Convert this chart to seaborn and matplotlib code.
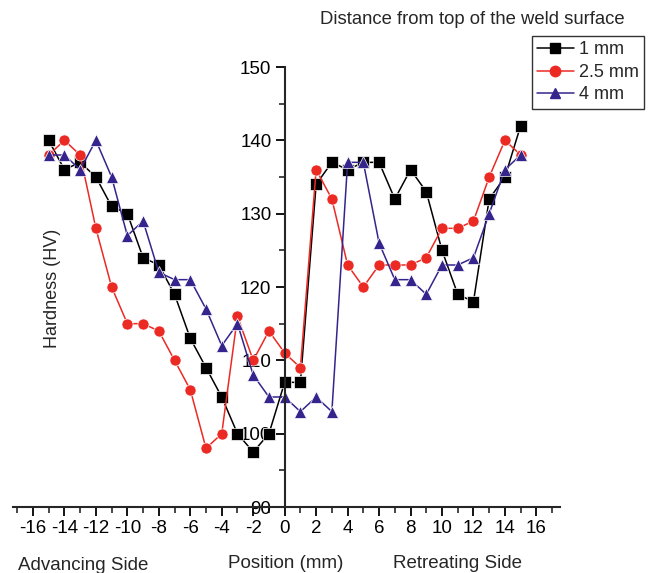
import numpy as np
import pandas as pd
import matplotlib
matplotlib.use("Agg")
import matplotlib.pyplot as plt
import seaborn as sns
from matplotlib.lines import Line2D

# ---- data ----
positions = list(range(-15, 16))
hv_1mm = [140, 136, 137, 135, 131, 130, 124, 123, 119, 113, 109, 105, 100, 97.5, 100,
          107, 107, 134, 137, 136, 137, 137, 132, 136, 133, 125, 119, 118, 132, 135, 142]
hv_25mm = [138, 140, 138, 128, 120, 115, 115, 114, 110, 106, 98, 100, 116, 110, 114,
           111, 109, 136, 132, 123, 120, 123, 123, 123, 124, 128, 128, 129, 135, 140, 138]
hv_4mm = [138, 138, 136, 140, 135, 127, 129, 122, 121, 121, 117, 112, 115, 108, 105,
          105, 103, 105, 103, 137, 137, 126, 121, 121, 119, 123, 123, 124, 130, 136, 138]
series_labels = ["1 mm", "2.5 mm", "4 mm"]
x_ticks = list(range(-16, 17, 2))
y_ticks = list(range(90, 151, 10))

df = pd.DataFrame({
    "Position": positions * 3,
    "Hardness": hv_1mm + hv_25mm + hv_4mm,
    "Depth": [series_labels[0]] * len(positions) + [series_labels[1]] * len(positions)
             + [series_labels[2]] * len(positions),
})

sns.set_style("ticks")
plt.rcParams["font.family"] = ["Liberation Sans", "DejaVu Sans"]
plt.rcParams["axes.unicode_minus"] = False

colors = ["#000000", "#ec2a24", "#34248c"]
markers = ["s", "o", "^"]

fig = plt.figure(figsize=(6.5, 5.73), dpi=100)
W, H = 650, 573
x0, x1 = 12.5, 560
y0, y1 = 507, 67
ax = fig.add_axes([x0 / W, 1 - y0 / H, (x1 - x0) / W, (y0 - y1) / H])

sns.lineplot(data=df, x="Position", y="Hardness", hue="Depth", style="Depth",
             palette=colors, markers=markers, dashes=False, ax=ax,
             linewidth=1.1, markersize=8, markeredgewidth=0.5, legend=False)

ax.set_xlim(-17.3, 17.5)
ax.set_ylim(90, 150)
ax.spines["top"].set_visible(False)
ax.spines["right"].set_visible(False)
ax.spines["left"].set_position(("data", 0))
ax.spines["left"].set_linewidth(1.5)
ax.spines["bottom"].set_linewidth(1.5)

ax.set_xticks(x_ticks)
ax.set_xticks(list(range(-17, 18)), minor=True)
ax.set_yticks(y_ticks)
ax.set_yticks(list(range(95, 150, 10)), minor=True)
ax.tick_params(axis="both", which="major", direction="out", length=6.5, width=1.3,
               labelsize=13.5, colors="black")
ax.tick_params(axis="both", which="minor", direction="out", length=4, width=1.2)
ax.tick_params(axis="x", pad=3)
ax.tick_params(axis="y", pad=3)
ax.set_xlabel("")
ax.set_ylabel("")
ax.patch.set_alpha(0)

# Legend
handles = [Line2D([0], [0], color=c, marker=m, markersize=7.5, linewidth=1.1)
           for c, m in zip(colors, markers)]
leg = fig.legend(handles, series_labels, loc="upper left",
                 bbox_to_anchor=(532 / W, 1 - 36 / H), frameon=True, fancybox=False,
                 fontsize=13, handlelength=2.0, borderpad=0.3, labelspacing=0.3,
                 handletextpad=0.3, borderaxespad=0)
leg.get_frame().set_edgecolor("black")
leg.get_frame().set_linewidth(1.0)

fig.text(320 / W, 1 - 19 / H, "Distance from top of the weld surface", ha="left",
         va="center", fontsize=13.3)
fig.text(53 / W, 1 - 288 / H, "Hardness (HV)", rotation=90, ha="center", va="center",
         fontsize=13)
fig.text(286 / W, 1 - 563 / H, "Position (mm)", ha="center", va="center", fontsize=13.5)
fig.text(18 / W, 1 - 566 / H, "Advancing Side", ha="left", va="center", fontsize=13.5)
fig.text(393 / W, 1 - 563 / H, "Retreating Side", ha="left", va="center", fontsize=13.5)

fig.savefig("out.png", dpi=100)
